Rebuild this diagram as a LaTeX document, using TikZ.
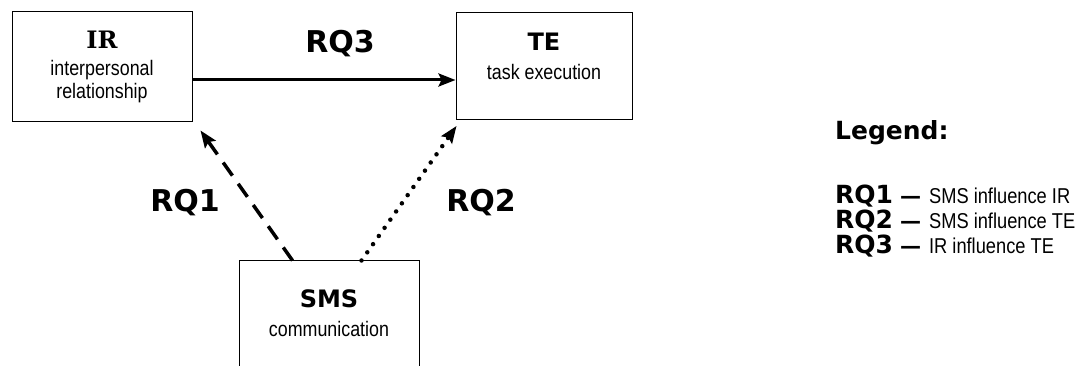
\documentclass[tikz,border=0pt]{standalone}
\usepackage{fontspec}
\setmainfont{Liberation Sans}
\newfontfamily\narrowfont[FakeStretch=0.85]{Liberation Sans}
\newfontfamily\headfont{DejaVu Sans}
\newfontfamily\serifhead{DejaVu Serif}
\usetikzlibrary{arrows.meta,positioning}
\tikzset {
  box style/.style = {
    draw=black,
    line width=1pt,
    minimum width=#1,
    inner sep=0pt
  },
  head style/.style = {
    font=\headfont\bfseries\fontsize{24}{26}\selectfont,
    anchor=base,
    inner sep=0pt
  },
  sub style/.style = {
    font=\narrowfont\fontsize{21}{23}\selectfont,
    anchor=base,
    inner sep=0pt
  },
  rq style/.style = {
    font=\headfont\bfseries\fontsize{30}{32}\selectfont,
    inner sep=0pt
  },
  legend style/.style = {
    anchor=base west,
    inner sep=0pt,
    font=\narrowfont\fontsize{21.5}{23}\selectfont
  },
  rq tip/.style = {
    -{Stealth[length=17pt, width=13pt, inset=3pt]}
  }
}
\newcommand{\legrq}[1]{{\headfont\bfseries\fontsize{25}{27}\selectfont #1}}
\newcommand{\legdash}{{\headfont\bfseries\fontsize{21}{23}\selectfont —}}

\begin{document}
\begin{tikzpicture}[x=1pt, y=-1pt]

\useasboundingbox (0,0) rectangle (1090,366);
\clip (0,0) rectangle (1090,366);

% --- Boxes ---
\node[box style=180pt, minimum height=110pt] (ir)  at (102, 67) {};
\node[box style=176pt, minimum height=107pt] (te)  at (544, 66) {};
\node[box style=180pt, minimum height=150pt] (sms) at (329,336) {};

\node[head style, font=\serifhead\bfseries\fontsize{24}{26}\selectfont]
  (irhead) at ([yshift=-37pt]ir.north) {IR};
\node[sub style] (irsub1) at ([yshift=-27pt]irhead.base) {interpersonal};
\node[sub style] (irsub2) at ([yshift=-23pt]irsub1.base) {relationship};

\node[head style] (tehead) at ([yshift=-39pt]te.north) {TE};
\node[sub style] (tesub) at ([yshift=-29pt]tehead.base) {task execution};

\node[head style] (smshead) at ([yshift=-47pt]sms.north) {SMS};
\node[sub style] (smssub) at ([yshift=-29pt]smshead.base) {communication};

% --- Connectors ---
\draw[rq tip, line width=3pt]
  ([yshift=-13pt]ir.east) -- ([yshift=-13pt]ir.east -| te.west);
\draw[rq tip, line width=3.5pt, dash pattern=on 16pt off 10pt]
  ([xshift=54pt]sms.north west) -- ([xshift=8pt, yshift=-8pt]ir.south east);
\draw[rq tip, line width=4.5pt, line cap=round, dash pattern=on 0pt off 10pt]
  ([xshift=123pt]sms.north west) -- ([xshift=1pt, yshift=-6pt]te.south west);

\node[rq style] (rq3) at (340, 44) {RQ3};
\node[rq style] (rq1) at (185,203) {RQ1};
\node[rq style] (rq2) at (481,203) {RQ2};

% --- Legend ---
\node[legend style, font=\headfont\bfseries\fontsize{25}{27}\selectfont]
  (legend) at (835,140) {Legend:};
\node[legend style] (leg1) at (835,204)
  {\legrq{RQ1}\hspace{7pt}\legdash\hspace{8pt}SMS influence IR};
\node[legend style] (leg2) at (835,229)
  {\legrq{RQ2}\hspace{7pt}\legdash\hspace{8pt}SMS influence TE};
\node[legend style] (leg3) at (835,254)
  {\legrq{RQ3}\hspace{7pt}\legdash\hspace{8pt}IR influence TE};

\end{tikzpicture}
\end{document}
